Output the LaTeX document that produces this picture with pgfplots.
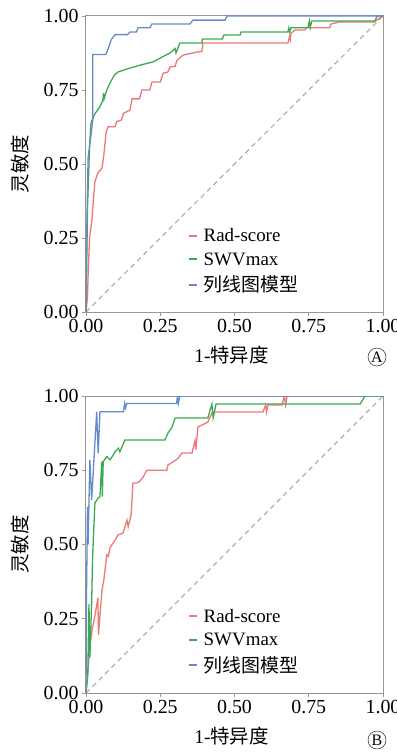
\documentclass[border=0pt]{standalone}
\usepackage{fontspec}
\setmainfont{Liberation Serif}
\newfontfamily\cjk{Noto Sans CJK SC}
\usepackage{pgfplots}
\pgfplotsset{compat=1.18}
\definecolor{cred}{RGB}{236,120,120}
\definecolor{cgreen}{RGB}{60,170,80}
\definecolor{cblue}{RGB}{100,140,200}
\definecolor{cgray}{RGB}{175,175,175}
\definecolor{caxis}{RGB}{150,150,150}
\pgfplotsset{
  rocstyle/.style={
    scale only axis, width=297bp,
    xmin=0, xmax=1, ymin=0, ymax=1,
    axis line style={caxis, line width=1bp},
    tick pos=left, tick align=outside,
    major tick length=4bp,
    tick style={caxis, line width=0.8bp},
    xtick={0,0.25,0.5,0.75,1}, ytick={0,0.25,0.5,0.75,1},
    xticklabels={0.00,0.25,0.50,0.75,1.00},
    yticklabels={0.00,0.25,0.50,0.75,1.00},
    ticklabel style={font=\fontsize{20}{22}\selectfont},
    /pgf/number format/assume math mode=true,
    xlabel={1-{\cjk 特异度}},
    ylabel={\cjk 灵敏度},
    label style={font=\fontsize{19.5}{22}\selectfont},
    xlabel style={at={(axis description cs:0.49,-0.145)}, anchor=center},
    ylabel style={at={(axis description cs:-0.222,0.5)}, anchor=center, rotate=0},
    legend style={at={(0.343,0.29)}, anchor=north west, draw=none, fill=none,
      font=\fontsize{19}{21}\selectfont, row sep=5.5bp, inner sep=0pt,
      legend cell align=left},
    legend image code/.code={\draw[#1, line width=2bp] (0bp,0bp) -- (8bp,0bp); \path (12bp,0bp);},
    every axis plot/.append style={line width=1.3bp},
  }
}
\begin{document}
\begin{tikzpicture}
\useasboundingbox (-86bp,-440bp) rectangle (311bp,312bp);
% ---------------- Panel A ----------------
\begin{axis}[rocstyle, height=296bp, at={(0,0)}, anchor=south west]
\addplot[cgray, dashed, dash pattern=on 5bp off 4bp, line width=1.2bp, forget plot] coordinates {(0,0) (1,1)};
\addplot[cred] coordinates {
(0,0)(0.005,0.05)(0.008,0.15)(0.012,0.25)(0.02,0.31)(0.025,0.38)(0.03,0.44)(0.04,0.47)(0.054,0.486)(0.06,0.53)(0.064,0.57)(0.068,0.61)(0.075,0.626)(0.098,0.626)(0.103,0.643)(0.12,0.649)(0.126,0.671)(0.148,0.682)(0.155,0.72)(0.18,0.72)(0.188,0.75)(0.215,0.75)(0.222,0.777)(0.25,0.777)(0.26,0.807)(0.275,0.81)(0.283,0.828)(0.3,0.83)(0.306,0.85)(0.327,0.868)(0.373,0.878)(0.39,0.88)(0.394,0.909)(0.68,0.909)(0.685,0.93)(0.688,0.92)(0.69,0.942)(0.704,0.953)(0.737,0.953)(0.742,0.96)(0.82,0.96)(0.825,0.973)(0.855,0.98)(0.97,0.98)(0.985,0.99)(1,1)};
\addlegendentry{Rad-score}
\addplot[cgreen] coordinates {
(0,0)(0.003,0.2)(0.005,0.35)(0.01,0.5)(0.013,0.58)(0.017,0.64)(0.03,0.67)(0.045,0.69)(0.057,0.716)(0.059,0.74)(0.061,0.72)(0.07,0.75)(0.081,0.774)(0.095,0.80)(0.108,0.811)(0.148,0.824)(0.182,0.834)(0.226,0.845)(0.25,0.858)(0.283,0.875)(0.30,0.89)(0.303,0.875)(0.316,0.909)(0.39,0.909)(0.392,0.922)(0.458,0.922)(0.465,0.936)(0.519,0.936)(0.522,0.946)(0.68,0.946)(0.683,0.96)(0.686,0.946)(0.69,0.96)(0.747,0.96)(0.752,0.983)(0.755,0.96)(0.76,0.983)(0.973,0.983)(0.98,1)(1,1)};
\addlegendentry{SWVmax}
\addplot[cblue] coordinates {
(0,0)(0.003,0.30)(0.007,0.52)(0.017,0.60)(0.023,0.65)(0.023,0.87)(0.067,0.87)(0.075,0.89)(0.085,0.92)(0.098,0.937)(0.14,0.937)(0.148,0.946)(0.17,0.946)(0.175,0.96)(0.215,0.96)(0.222,0.973)(0.35,0.973)(0.36,0.986)(0.468,0.986)(0.475,1)(1,1)};
\addlegendentry{\cjk 列线图模型}
\end{axis}
\node[draw, circle, inner sep=0pt, minimum size=18bp, font=\fontsize{16}{16}\selectfont] at (291bp,-45bp) {A};
% ---------------- Panel B ----------------
\begin{axis}[rocstyle, height=297bp, at={(0,-381bp)}, anchor=south west]
\addplot[cgray, dashed, dash pattern=on 5bp off 4bp, line width=1.2bp, forget plot] coordinates {(0,0) (1,1)};
\addplot[cred] coordinates {
(0,0)(0.007,0.077)(0.012,0.15)(0.02,0.21)(0.03,0.26)(0.04,0.32)(0.042,0.195)(0.05,0.30)(0.054,0.347)(0.06,0.38)(0.064,0.414)(0.07,0.465)(0.075,0.46)(0.081,0.49)(0.098,0.515)(0.108,0.532)(0.125,0.539)(0.138,0.582)(0.142,0.56)(0.152,0.6)(0.158,0.707)(0.17,0.707)(0.18,0.712)(0.192,0.727)(0.205,0.75)(0.272,0.75)(0.276,0.768)(0.293,0.778)(0.31,0.79)(0.323,0.808)(0.357,0.808)(0.367,0.85)(0.37,0.82)(0.377,0.896)(0.39,0.902)(0.41,0.912)(0.424,0.943)(0.434,0.946)(0.596,0.946)(0.605,0.97)(0.608,0.946)(0.613,0.97)(0.66,0.97)(0.668,1)(0.672,0.97)(0.677,1)(1,1)};
\addlegendentry{Rad-score}
\addplot[cgreen] coordinates {
(0,0)(0.006,0.06)(0.01,0.30)(0.013,0.12)(0.019,0.30)(0.022,0.45)(0.026,0.55)(0.03,0.64)(0.041,0.657)(0.047,0.661)(0.053,0.779)(0.055,0.661)(0.058,0.779)(0.07,0.796)(0.081,0.785)(0.098,0.812)(0.109,0.824)(0.114,0.812)(0.131,0.852)(0.266,0.852)(0.276,0.875)(0.29,0.896)(0.3,0.926)(0.41,0.926)(0.424,0.973)(0.428,0.926)(0.438,0.973)(0.923,0.973)(0.94,1)(1,1)};
\addlegendentry{SWVmax}
\addplot[cblue] coordinates {
(0,0)(0.002,0.35)(0.005,0.627)(0.007,0.5)(0.013,0.785)(0.019,0.65)(0.036,0.947)(0.041,0.807)(0.047,0.947)(0.126,0.947)(0.13,0.975)(0.133,0.96)(0.137,0.975)(0.305,0.975)(0.308,1)(0.311,0.975)(0.316,1)(1,1)};
\addlegendentry{\cjk 列线图模型}
\end{axis}
\node[draw, circle, inner sep=0pt, minimum size=18bp, font=\fontsize{16}{16}\selectfont] at (291bp,-428bp) {B};
\end{tikzpicture}
\end{document}
